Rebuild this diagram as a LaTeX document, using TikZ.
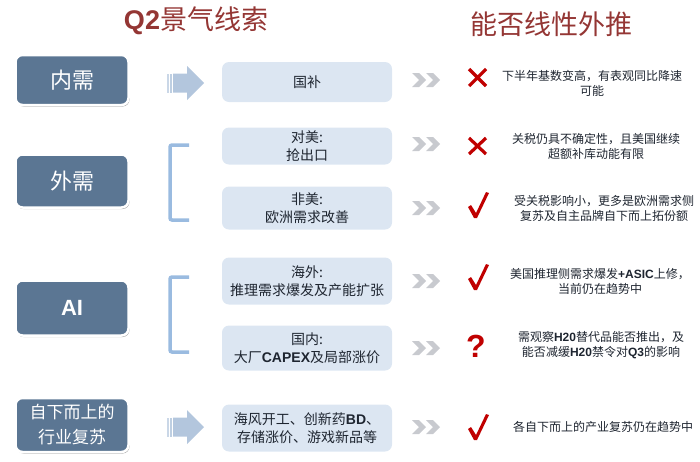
\documentclass[tikz,border=0pt]{standalone}
\usepackage{fontspec}
\setmainfont{Liberation Sans}
\newfontfamily\cjk{Noto Sans CJK SC}
\usetikzlibrary{shadows}
\definecolor{titlered}{HTML}{943634}
\definecolor{catblue}{HTML}{5B7693}
\definecolor{midblue}{HTML}{DCE6F2}
\definecolor{arrowblue}{HTML}{B3C6DD}
\definecolor{brackblue}{HTML}{9ABBE0}
\definecolor{chevgrey}{HTML}{C8CACF}
\definecolor{markred}{HTML}{C00000}
\definecolor{txtdark}{HTML}{1E2530}
\newcommand{\lb}[1]{{\normalfont\bfseries #1}}
\begin{document}
\begin{tikzpicture}[x=1pt,y=-1pt,
  cat/.style={draw=white, line width=2.5pt, fill=catblue, rounded corners=7pt,
    minimum width=113pt, text=white, align=center, inner sep=0pt,
    drop shadow={shadow xshift=1pt, shadow yshift=-1.5pt, opacity=0.35, fill=black}},
  mid/.style={fill=midblue, rounded corners=7pt, minimum width=170pt, text=txtdark,
    align=center, inner sep=0pt, font=\cjk\fontsize{14}{18}\selectfont},
  note/.style={text=txtdark, align=center, inner sep=0pt, font=\cjk\fontsize{12}{15}\selectfont},
  ttl/.style={text=titlered, inner sep=0pt, font=\cjk\fontsize{27}{30}\selectfont},
  brack/.style={draw=brackblue, line width=3.5pt, rounded corners=2pt},
  cross/.style={draw=markred, line width=3.2pt},
]
\useasboundingbox (0,0) rectangle (700,461);

% titles
\node[ttl] (t1) at (196,21) {\lb{Q2}景气线索};
\node[ttl] (t2) at (551,24) {能否线性外推};

% category boxes
\node[cat, minimum height=50pt, font=\cjk\fontsize{22}{26}\selectfont] (c1) at (72,80) {内需};
\node[cat, minimum height=53pt, font=\cjk\fontsize{22}{26}\selectfont] (c2) at (72,181) {外需};
\node[cat, minimum height=55pt, font=\bfseries\fontsize{22}{26}\selectfont] (c3) at (72,308) {AI};
\node[cat, minimum height=54pt, font=\cjk\fontsize{17}{25}\selectfont] (c4) at (72,425) {自下而上的\\行业复苏};

% middle boxes
\node[mid, minimum height=40pt] (m1) at (307,82) {国补};
\node[mid, minimum height=37pt] (m2) at (307,146) {对美:\\抢出口};
\node[mid, minimum height=43pt] (m3) at (307,208) {非美:\\欧洲需求改善};
\node[mid, minimum height=47pt] (m4) at (307,281) {海外:\\推理需求爆发及产能扩张};
\node[mid, minimum height=45pt] (m5) at (307,348) {国内:\\大厂\lb{CAPEX}及局部涨价};
\node[mid, minimum height=47pt] (m6) at (307,428) {海风开工、创新药\lb{BD}、\\存储涨价、游戏新品等};

% block arrows
\foreach \yy in {83,427}{
  \fill[arrowblue!70] (167,\yy-9.5) rectangle (168.5,\yy+9.5);
  \fill[arrowblue!85] (170,\yy-9.5) rectangle (171.5,\yy+9.5);
  \fill[arrowblue] (173,\yy-9.5) -- (187,\yy-9.5) -- (187,\yy-17) -- (204,\yy) -- (187,\yy+17) -- (187,\yy+9.5) -- (173,\yy+9.5) -- cycle;
}

% brackets
\draw[brack] (189,145) -- (170,145) -- (170,220) -- (189,220);
\draw[brack] (189,277) -- (170,277) -- (170,352) -- (189,352);

% chevrons
\foreach \yy in {80,144,208,281,348,427}{
  \foreach \xx in {412,426}{
    \fill[chevgrey] (\xx,\yy-7) -- (\xx+7,\yy-7) -- (\xx+14,\yy) -- (\xx+7,\yy+7) -- (\xx,\yy+7) -- (\xx+7,\yy) -- cycle;
  }
}

% marks
\draw[cross] (469,69) -- (486,86) (486,69) -- (469,86);
\draw[cross] (469,138) -- (486,154) (486,138) -- (469,154);
\foreach \yy in {192,264,414}{
  \fill[markred] (468,\yy+15) -- (471,\yy+13) -- (476,\yy+21) -- (486,\yy) -- (489,\yy+1) -- (477,\yy+26) -- (474,\yy+26) -- cycle;
}
\node[text=markred, inner sep=0pt, font=\bfseries\fontsize{32}{32}\selectfont] (q) at (476,346) {?};

% notes
\node[note] (n1) at (592,83) {下半年基数变高，有表观同比降速\\可能};
\node[note] (n2) at (596,146) {关税仍具不确定性，且美国继续\\超额补库动能有限};
\node[note] (n3) at (604,208) {受关税影响小，更多是欧洲需求侧\\复苏及自主品牌自下而上拓份额};
\node[note] (n4) at (600,281) {美国推理侧需求爆发\lb{+ASIC}上修，\\当前仍在趋势中};
\node[note] (n5) at (601,345) {需观察\lb{H20}替代品能否推出，及\\能否减缓\lb{H20}禁令对\lb{Q3}的影响};
\node[note] (n6) at (603,427) {各自下而上的产业复苏仍在趋势中};
\end{tikzpicture}
\end{document}
